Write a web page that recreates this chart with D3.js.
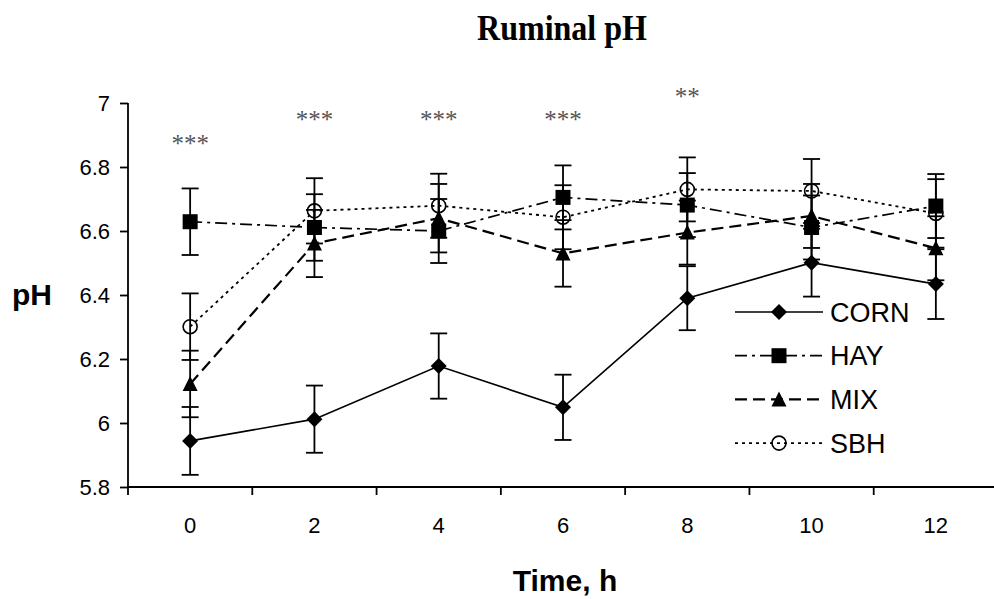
<!DOCTYPE html>
<html>
<head>
<meta charset="utf-8">
<script src="https://cdn.jsdelivr.net/npm/d3@7"></script>
<style>
  body { margin: 0; background: #fff; }
  svg { display: block; }
</style>
</head>
<body>
<svg id="chart" width="994" height="599"></svg>
<script>
// time points (h)
var hours = ["0", "2", "4", "6", "8", "10", "12"];

// ruminal pH means
var corn = [5.944, 6.012, 6.178, 6.049, 6.390, 6.501, 6.434];
var hay  = [6.629, 6.611, 6.600, 6.705, 6.681, 6.611, 6.678];
var mix  = [6.122, 6.561, 6.640, 6.530, 6.595, 6.647, 6.546];
var sbh  = [6.301, 6.663, 6.679, 6.643, 6.730, 6.725, 6.655];

// standard errors
var cornSE = [0.106, 0.105, 0.102, 0.102, 0.100, 0.106, 0.109];
var haySE  = [0.104, 0.104, 0.100, 0.100, 0.100, 0.100, 0.100];
var mixSE  = [0.104, 0.105, 0.107, 0.104, 0.100, 0.100, 0.100];
var sbhSE  = [0.104, 0.102, 0.100, 0.100, 0.100, 0.100, 0.107];

// significance marks and their height (pH units)
var sigLabels = ["***", "***", "***", "***", "**", "", ""];
var sigY      = [6.884, 6.959, 6.959, 6.959, 7.031, 0, 0];

var yTicks = [5.8, 6, 6.2, 6.4, 6.6, 6.8, 7];

var series = [
  { name: "CORN", values: corn, se: cornSE, marker: "diamond",  dash: null,       width: 1.7 },
  { name: "HAY",  values: hay,  se: haySE,  marker: "square",   dash: "12,5,3,5", width: 1.7 },
  { name: "MIX",  values: mix,  se: mixSE,  marker: "triangle", dash: "12,6",     width: 2.2 },
  { name: "SBH",  values: sbh,  se: sbhSE,  marker: "circle",   dash: "3,4",      width: 1.8 }
];

var svg = d3.select("#chart");
var sans = "'Liberation Sans', Arial, sans-serif";
var serif = "'Liberation Serif', 'Times New Roman', serif";

var x = d3.scaleBand().domain(hours).range([128, 998]).paddingInner(0);
var y = d3.scaleLinear().domain([5.8, 7]).range([487, 103]);
var cx = function(i) { return x(hours[i]) + x.bandwidth() / 2; };

// y axis
var yAxis = svg.append("g")
  .attr("transform", "translate(128,0)")
  .call(d3.axisLeft(y).tickValues(yTicks).tickSize(8).tickPadding(10).tickFormat(function(d) { return String(d); }));
yAxis.select(".domain").attr("d", "M0,103V487");
yAxis.selectAll("line, path").attr("stroke", "#000").attr("stroke-width", 1.8);
yAxis.selectAll("text").attr("font-family", sans).attr("font-size", 22).attr("fill", "#000");

// x axis: ticks on category borders, labels centred
var xAxis = svg.append("g").attr("transform", "translate(0,487)");
xAxis.append("line").attr("x1", 127).attr("x2", 998).attr("stroke", "#000").attr("stroke-width", 1.8);
var borders = hours.map(function(h) { return x(h); }).concat([x.range()[1]]);
xAxis.selectAll(".tick").data(borders).enter().append("line")
  .attr("x1", function(d) { return d; }).attr("x2", function(d) { return d; })
  .attr("y1", 0).attr("y2", 8)
  .attr("stroke", "#000").attr("stroke-width", 1.8);
xAxis.selectAll(".lab").data(hours).enter().append("text")
  .attr("x", function(d) { return x(d) + x.bandwidth() / 2; })
  .attr("y", 30).attr("dy", "0.71em")
  .attr("text-anchor", "middle")
  .attr("font-family", sans).attr("font-size", 22)
  .text(function(d) { return d; });

function drawMarker(g, type, px, py) {
  if (type === "diamond") {
    g.append("path").attr("d", "M" + px + "," + (py - 8) + "L" + (px + 8) + "," + py + "L" + px + "," + (py + 8) + "L" + (px - 8) + "," + py + "Z").attr("fill", "#000");
  } else if (type === "square") {
    g.append("rect").attr("x", px - 7.5).attr("y", py - 7.5).attr("width", 15).attr("height", 15).attr("fill", "#000");
  } else if (type === "triangle") {
    g.append("path").attr("d", "M" + px + "," + (py - 8) + "L" + (px + 7.5) + "," + (py + 7) + "L" + (px - 7.5) + "," + (py + 7) + "Z").attr("fill", "#000");
  } else {
    g.append("circle").attr("cx", px).attr("cy", py).attr("r", 7).attr("fill", "none").attr("stroke", "#000").attr("stroke-width", 1.6);
  }
}

var line = d3.line()
  .x(function(d, i) { return cx(i); })
  .y(function(d) { return y(d); });

series.forEach(function(s) {
  var g = svg.append("g");
  g.append("path")
    .attr("d", line(s.values))
    .attr("fill", "none")
    .attr("stroke", "#000")
    .attr("stroke-width", s.width)
    .attr("stroke-dasharray", s.dash);

  // error bars
  s.values.forEach(function(v, i) {
    var px = cx(i), top = y(v + s.se[i]), bot = y(v - s.se[i]);
    g.append("line").attr("x1", px).attr("x2", px).attr("y1", top).attr("y2", bot).attr("stroke", "#000").attr("stroke-width", 1.8);
    g.append("line").attr("x1", px - 8.5).attr("x2", px + 8.5).attr("y1", top).attr("y2", top).attr("stroke", "#000").attr("stroke-width", 1.8);
    g.append("line").attr("x1", px - 8.5).attr("x2", px + 8.5).attr("y1", bot).attr("y2", bot).attr("stroke", "#000").attr("stroke-width", 1.8);
  });

  s.values.forEach(function(v, i) { drawMarker(g, s.marker, cx(i), y(v)); });
});

// significance stars
svg.selectAll(".sig").data(sigLabels).enter().append("text")
  .attr("x", function(d, i) { return cx(i); })
  .attr("y", function(d, i) { return y(sigY[i]) + 12; })
  .attr("text-anchor", "middle")
  .attr("font-family", serif).attr("font-size", 25).attr("fill", "#555")
  .text(function(d) { return d; });

// legend
var legend = svg.append("g");
series.forEach(function(s, i) {
  var ly = 312 + i * 43.7;
  legend.append("line").attr("x1", 735).attr("x2", 823).attr("y1", ly).attr("y2", ly)
    .attr("stroke", "#000").attr("stroke-width", s.width).attr("stroke-dasharray", s.dash);
  drawMarker(legend, s.marker, 779, ly);
  legend.append("text").attr("x", 830).attr("y", ly).attr("dy", "0.36em")
    .attr("font-family", sans).attr("font-size", 27).text(s.name);
});

// titles
svg.append("text").attr("x", 562).attr("y", 40).attr("text-anchor", "middle")
  .attr("font-family", serif).attr("font-weight", "bold").attr("font-size", 35)
  .attr("textLength", 170).attr("lengthAdjust", "spacingAndGlyphs")
  .text("Ruminal pH");
svg.append("text").attr("x", 12).attr("y", 305)
  .attr("font-family", sans).attr("font-weight", "bold").attr("font-size", 30)
  .text("pH");
svg.append("text").attr("x", 565).attr("y", 591).attr("text-anchor", "middle")
  .attr("font-family", sans).attr("font-weight", "bold").attr("font-size", 30)
  .text("Time, h");
</script>
</body>
</html>
